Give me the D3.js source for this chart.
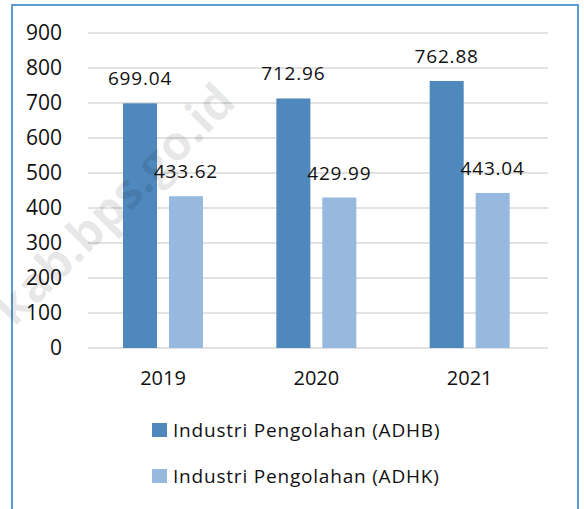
<!DOCTYPE html>
<html>
<head>
<meta charset="utf-8">
<script src="https://cdn.jsdelivr.net/npm/d3@7"></script>
<style>
  body { margin: 0; background: #fff; }
  text { font-family: "Open Sans", sans-serif; fill: #111; }
</style>
</head>
<body>
<div id="chart"></div>
<script>
// data
const years = ["2019", "2020", "2021"];
const seriesNames = ["Industri Pengolahan (ADHB)", "Industri Pengolahan (ADHK)"];
const adhb = [699.04, 712.96, 762.88];
const adhk = [433.62, 429.99, 443.04];
const yTicks = [0, 100, 200, 300, 400, 500, 600, 700, 800, 900];
const colors = ["#4f88bd", "#97b9df"];

const width = 584, height = 509;

const svg = d3.select("#chart").append("svg")
    .attr("width", width)
    .attr("height", height);

// outer frame
svg.append("rect")
    .attr("x", 12).attr("y", 5)
    .attr("width", 566).attr("height", 520)
    .attr("fill", "#fff")
    .attr("stroke", "#5b9bd5")
    .attr("stroke-width", 2);

const y = d3.scaleLinear().domain([0, 900]).range([348, 33]);
const x0 = d3.scaleBand().domain(years).range([88, 548]);
const x1 = d3.scaleBand().domain(seriesNames).range([35, 115]).paddingInner(0.26);

// gridlines
svg.append("g").selectAll("line")
    .data(yTicks)
    .join("line")
    .attr("x1", 88).attr("x2", 548)
    .attr("y1", d => y(d)).attr("y2", d => y(d))
    .attr("stroke", "#d9d9d9")
    .attr("stroke-width", 1.5);

// y tick labels
svg.append("g").selectAll("text")
    .data(yTicks)
    .join("text")
    .attr("x", 62)
    .attr("y", d => y(d))
    .attr("dy", "0.34em")
    .attr("text-anchor", "end")
    .style("font-size", "21px")
    .text(d => d);

const rows = years.map((yr, i) => ({ year: yr, values: [adhb[i], adhk[i]] }));

const groups = svg.append("g").selectAll("g")
    .data(rows)
    .join("g")
    .attr("transform", d => `translate(${x0(d.year)},0)`);

groups.selectAll("rect")
    .data(d => d.values.map((v, j) => ({ key: seriesNames[j], value: v, j })))
    .join("rect")
    .attr("x", d => x1(d.key))
    .attr("width", x1.bandwidth())
    .attr("y", d => y(d.value))
    .attr("height", d => y(0) - y(d.value))
    .attr("fill", d => colors[d.j]);

// value labels
groups.selectAll("text.val")
    .data(d => d.values.map((v, j) => ({ key: seriesNames[j], value: v })))
    .join("text")
    .attr("class", "val")
    .attr("x", d => x1(d.key) + x1.bandwidth() / 2)
    .attr("y", d => y(d.value) - 18)
    .attr("text-anchor", "middle")
    .style("font-size", "19px")
    .style("letter-spacing", "0.8px")
    .text(d => d.value.toFixed(2));

// year labels
svg.append("g").selectAll("text")
    .data(years)
    .join("text")
    .attr("x", d => x0(d) + 75)
    .attr("y", 385)
    .attr("text-anchor", "middle")
    .style("font-size", "20px")
    .text(d => d);

// legend
const legend = svg.append("g").selectAll("g")
    .data(seriesNames)
    .join("g")
    .attr("transform", (d, i) => `translate(152,${423 + i * 46})`);

legend.append("rect")
    .attr("width", 15).attr("height", 14)
    .attr("fill", (d, i) => colors[i]);

legend.append("text")
    .attr("x", 21)
    .attr("y", 14)
    .style("font-size", "19px")
    .style("letter-spacing", "0.8px")
    .text(d => d);

// watermark
svg.append("text")
    .attr("transform", "translate(238,104) rotate(-45)")
    .attr("text-anchor", "end")
    .style("font-size", "48px")
    .style("font-weight", "bold")
    .style("fill", "#000")
    .style("fill-opacity", 0.09)
    .text("kab.bps.go.id");
</script>
</body>
</html>
